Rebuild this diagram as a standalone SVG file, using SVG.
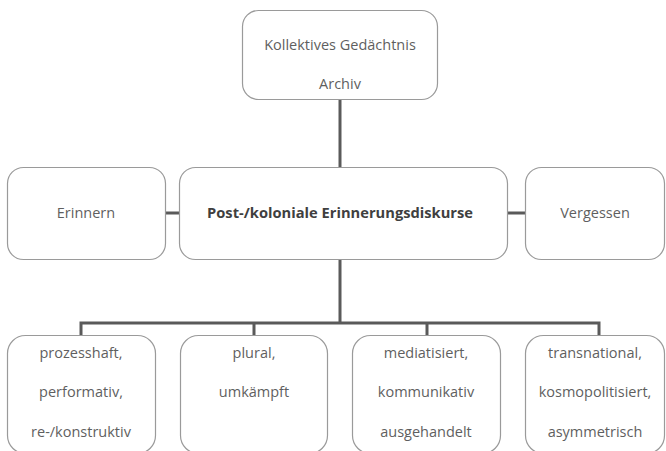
<svg xmlns="http://www.w3.org/2000/svg" width="666" height="451" viewBox="0 0 666 451">
<style>
.box{fill:#fff;stroke:#9a9a9a;stroke-width:1.2}
.t{font-family:"Open Sans","Liberation Sans",sans-serif;font-size:14.5px;fill:#5f5f5f;text-anchor:middle}
.b{font-weight:bold;fill:#3f3f3f;font-size:14.7px}
.c{fill:none;stroke:#5a5a5a;stroke-width:3}
</style>
<rect width="666" height="451" fill="#fff"/>
<g id="connectors">
<path class="c" d="M340 99V167"/>
<path class="c" d="M166 213H179M508 213H525"/>
<path class="c" d="M340 260V323M81 336V323H599V336M254 323V336M427 323V336"/>
</g>
<g id="top"><rect class="box" x="242.5" y="10.5" width="195" height="89" rx="16"/>
<text class="t" x="340" y="50">Kollektives Gedächtnis</text><text class="t" x="340" y="89">Archiv</text></g>
<g id="erinnern"><rect class="box" x="7.5" y="167.5" width="158" height="92" rx="16"/>
<text class="t" x="86" y="218">Erinnern</text></g>
<g id="center"><rect class="box" x="179.5" y="167.5" width="328" height="92" rx="16"/>
<text class="t b" x="340" y="218">Post-/koloniale Erinnerungsdiskurse</text></g>
<g id="vergessen"><rect class="box" x="525.5" y="167.5" width="139" height="92" rx="16"/>
<text class="t" x="595" y="218">Vergessen</text></g>
<g id="b1"><rect class="box" x="7.5" y="335.5" width="148" height="118" rx="18"/>
<text class="t" x="81" y="358">prozesshaft,</text><text class="t" x="81" y="397">performativ,</text><text class="t" x="81" y="437">re-/konstruktiv</text></g>
<g id="b2"><rect class="box" x="180.5" y="335.5" width="147" height="118" rx="18"/>
<text class="t" x="254" y="358">plural,</text><text class="t" x="254" y="397">umkämpft</text></g>
<g id="b3"><rect class="box" x="352.5" y="335.5" width="148" height="118" rx="18"/>
<text class="t" x="426" y="358">mediatisiert,</text><text class="t" x="426" y="397">kommunikativ</text><text class="t" x="426" y="437">ausgehandelt</text></g>
<g id="b4"><rect class="box" x="525.5" y="335.5" width="139" height="118" rx="18"/>
<text class="t" x="595" y="358">transnational,</text><text class="t" x="595" y="397">kosmopolitisiert,</text><text class="t" x="595" y="437">asymmetrisch</text></g>
</svg>
